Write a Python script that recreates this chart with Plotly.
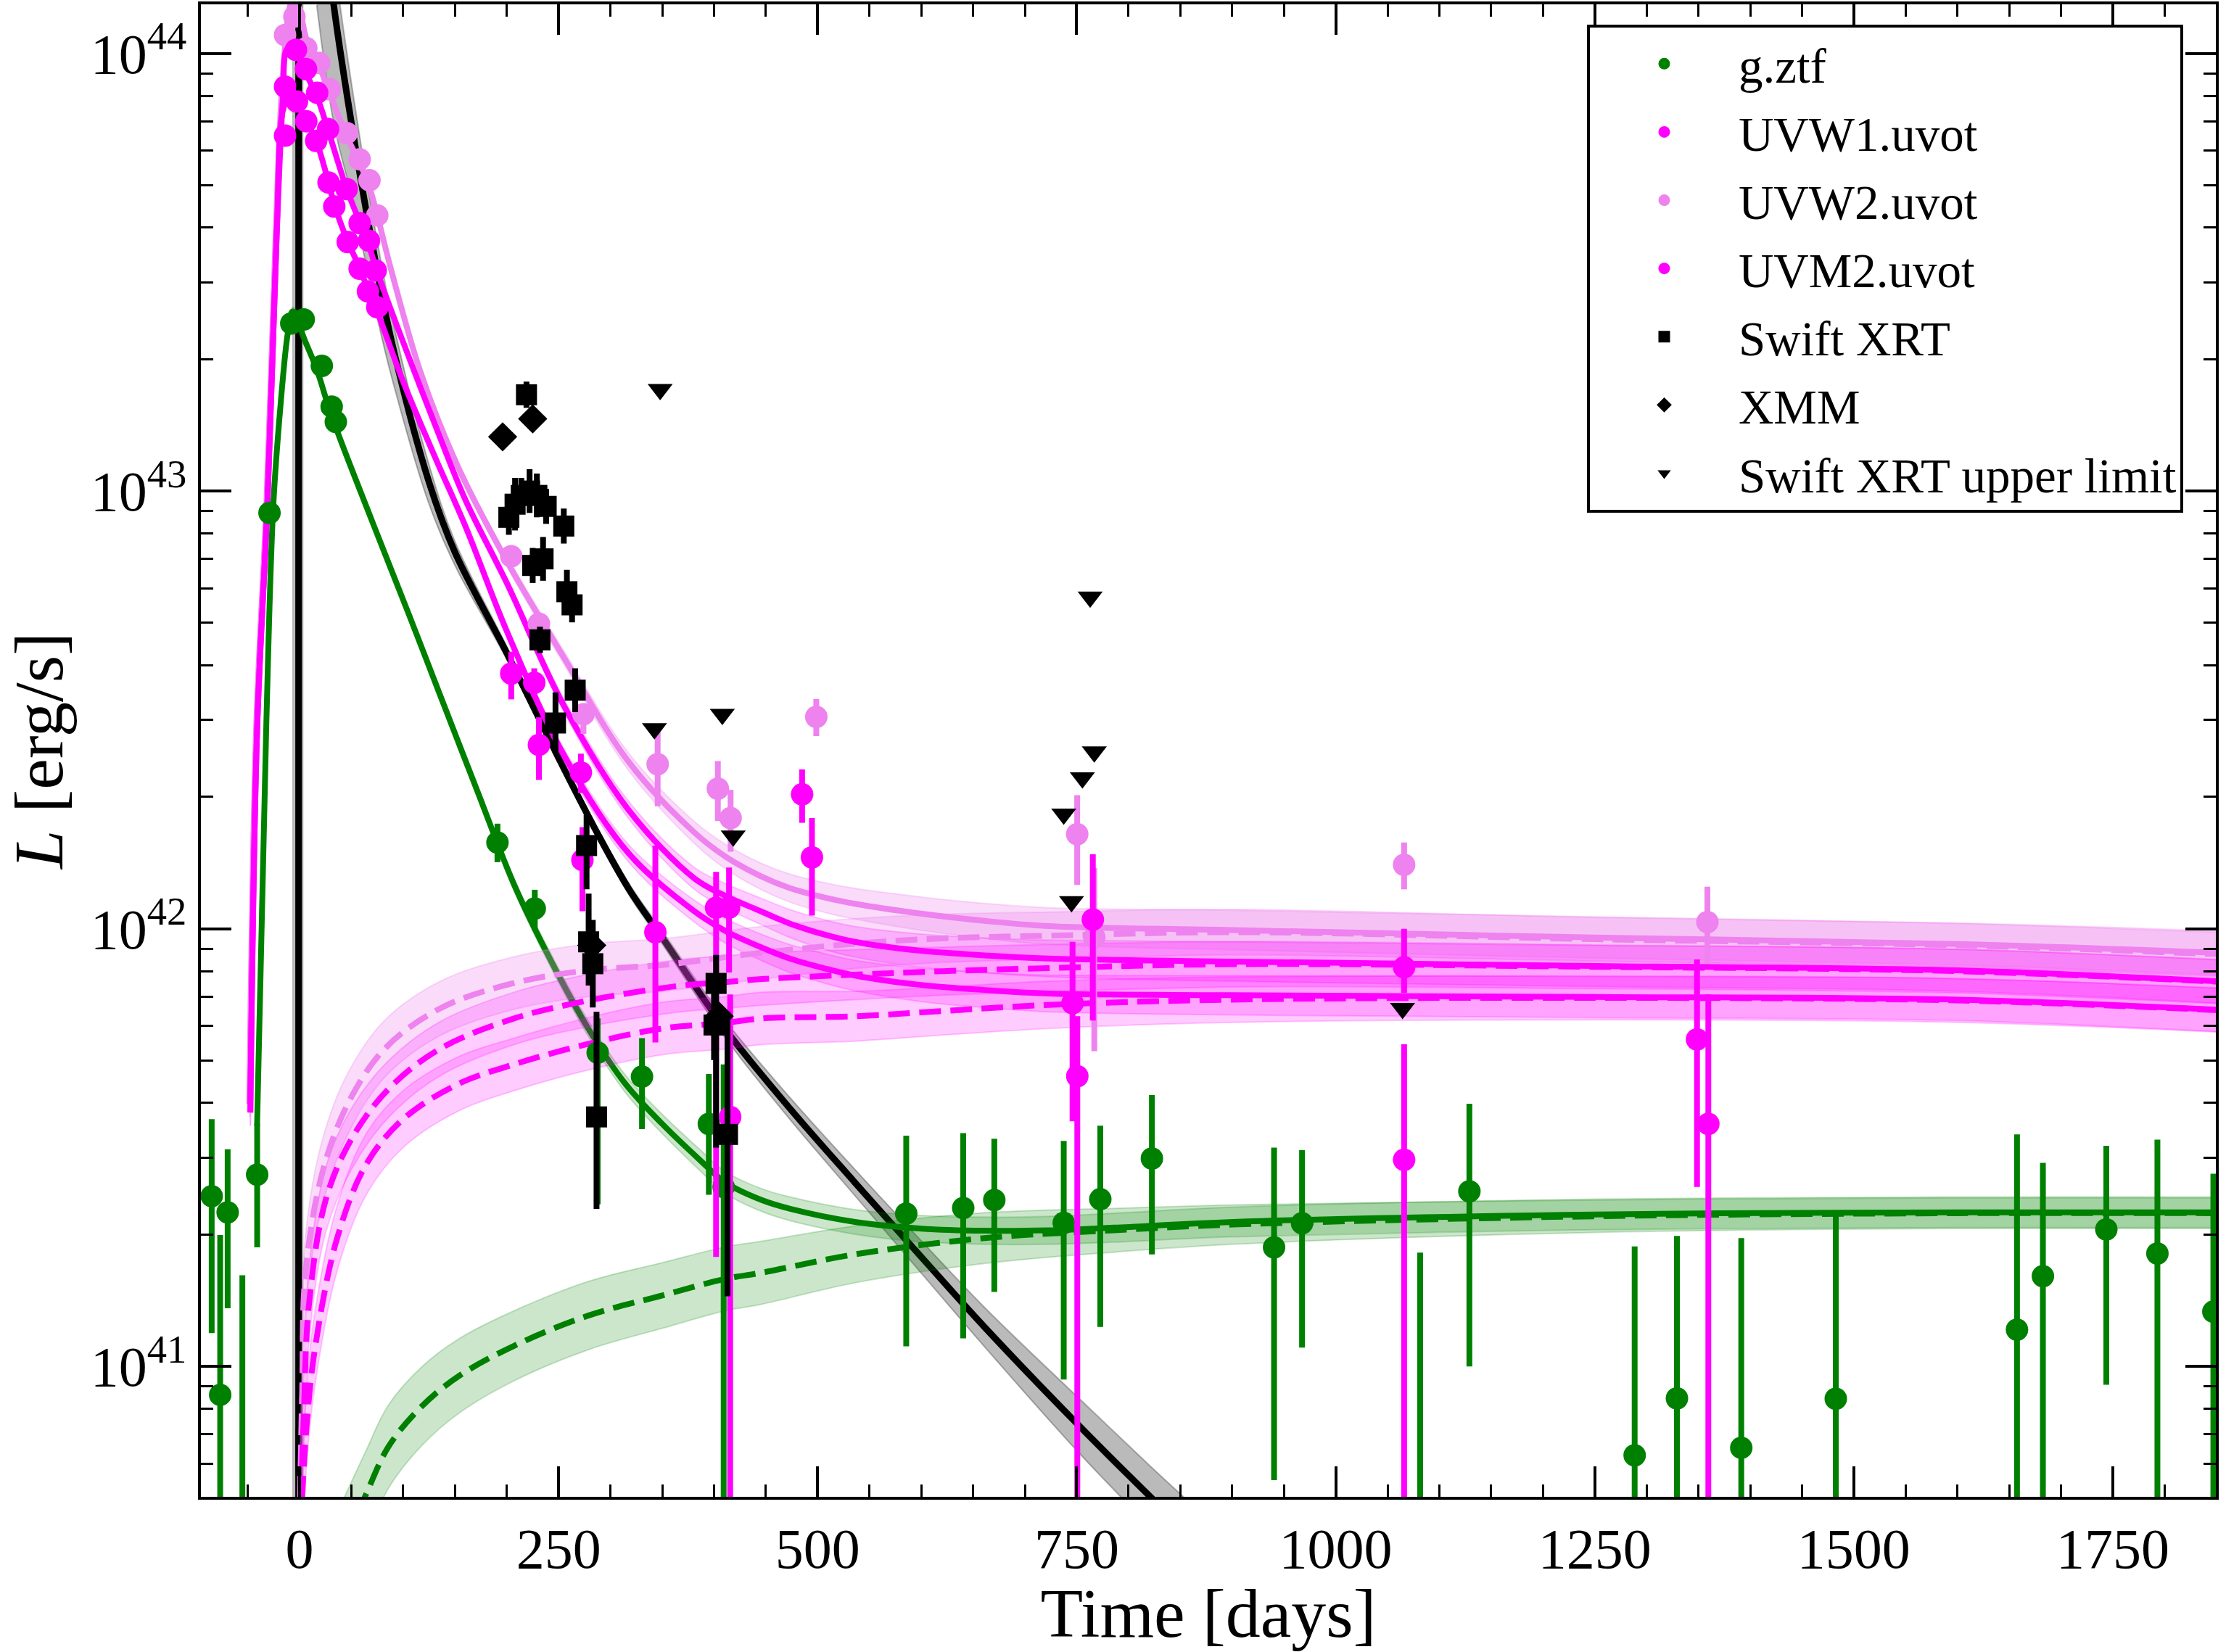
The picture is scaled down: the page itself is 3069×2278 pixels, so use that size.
import numpy as np
import plotly.graph_objects as go

FONT = "Liberation Serif, Times New Roman, serif"
GREEN = "#008000"
MAGENTA = "#FF00FF"
VIOLET = "#EE82EE"

# ---------------- observed photometry (time [days], log10 L [erg/s]) ----------------
# g.ztf
g_t = [-84.8, -76.6, -69.4, -55.2, -40.9, -29.0, -8.0, 4.0, 21.5, 31.0, 35.0, 191.0, 227.0, 287.7,
       330.5, 395.0, 409.3, 585.5, 640.5, 670.5, 737.5, 772.8, 822.6, 940.5, 967.5, 1081.5, 1129.0,
       1288.5, 1329.3, 1391.4, 1482.6, 1657.5, 1682.5, 1743.7, 1793.0, 1847.0]
g_L = [41.389, 40.935, 41.352, 40.50, 41.438, 42.950, 43.383, 43.392, 43.286, 43.193, 43.158, 42.197,
       42.046, 41.717, 41.662, 41.554, 41.410, 41.349, 41.362, 41.380, 41.328, 41.382, 41.475, 41.272,
       41.327, 40.550, 41.400, 40.797, 40.927, 40.814, 40.926, 41.084, 41.206, 41.313, 41.258, 41.125]
g_lo = [41.076, 40.0, 41.133, 40.0, 41.272, 42.935, 43.372, 43.381, 43.275, 43.182, 43.147, 42.152,
        41.996, 41.370, 41.542, 41.392, 40.0, 41.046, 41.064, 41.170, 40.970, 41.090, 41.256, 40.740,
        41.043, 40.0, 41.000, 40.0, 40.0, 40.0, 40.0, 40.0, 40.0, 40.958, 40.0, 40.0]
g_hi = [41.565, 41.300, 41.496, 41.208, 41.554, 42.965, 43.394, 43.403, 43.297, 43.204, 43.169, 42.240,
        42.089, 41.795, 41.750, 41.668, 41.690, 41.527, 41.533, 41.520, 41.515, 41.550, 41.620, 41.500,
        41.494, 41.260, 41.600, 41.274, 41.298, 41.293, 41.350, 41.530, 41.465, 41.504, 41.518, 41.440]

# UVW1.uvot
w1_t = [-14.0, -2.5, 6.5, 16.0, 28.0, 33.5, 46.5, 58.0, 66.0, 75.0, 204.3, 231.0, 273.0, 343.4,
        402.0, 415.6, 494.5, 746.0, 1066.0, 1359.6]
w1_L = [43.812, 43.890, 43.845, 43.800, 43.705, 43.650, 43.569, 43.508, 43.456, 43.420, 42.583, 42.420,
        42.157, 41.992, 42.048, 41.570, 42.163, 41.830, 41.472, 41.554]
w1_lo = [43.802, 43.880, 43.835, 43.790, 43.695, 43.640, 43.559, 43.498, 43.446, 43.410, 42.524, 42.340,
         42.040, 41.740, 41.250, 40.0, 42.030, 41.560, 40.0, 40.0]
w1_hi = [43.822, 43.900, 43.855, 43.810, 43.715, 43.660, 43.579, 43.518, 43.466, 43.430, 42.633, 42.483,
         42.232, 42.190, 42.130, 41.850, 42.253, 41.970, 41.736, 41.850]

# UVW2.uvot
w2_t = [-14.0, -5.0, 6.5, 19.0, 29.0, 45.5, 58.0, 67.5, 75.0, 204.3, 231.0, 274.0, 345.6, 403.7,
        416.0, 498.7, 750.5, 767.0, 1066.0, 1358.7]
w2_L = [44.042, 44.084, 44.012, 43.978, 43.918, 43.818, 43.758, 43.710, 43.630, 42.851, 42.697, 42.490,
        42.376, 42.320, 42.253, 42.484, 42.216, 41.980, 42.146, 42.015]
w2_lo = [44.032, 44.074, 44.002, 43.968, 43.908, 43.808, 43.748, 43.700, 43.620, 42.835, 42.680, 42.445,
         42.280, 42.246, 42.176, 42.440, 42.100, 41.720, 42.090, 41.920]
w2_hi = [44.052, 44.094, 44.022, 43.988, 43.928, 43.828, 43.768, 43.720, 43.640, 42.867, 42.712, 42.515,
         42.460, 42.383, 42.317, 42.525, 42.305, 42.139, 42.197, 42.096]

# UVM2.uvot
m2_t = [-14.0, -3.5, 6.2, 17.0, 27.5, 45.5, 58.0, 67.0, 73.5, 226.5, 271.5, 414.5, 485.0, 750.6,
        765.6, 1066.0, 1348.7]
m2_L = [43.924, 44.008, 43.964, 43.910, 43.827, 43.690, 43.612, 43.572, 43.504, 42.562, 42.357, 42.048,
        42.307, 41.663, 42.021, 41.912, 41.747]
m2_lo = [43.914, 43.998, 43.954, 43.900, 43.817, 43.680, 43.602, 43.562, 43.494, 42.529, 42.310, 41.900,
         42.242, 40.0, 41.790, 41.853, 41.410]
m2_hi = [43.934, 44.018, 43.974, 43.920, 43.837, 43.700, 43.622, 43.582, 43.514, 42.595, 42.400, 42.140,
         42.364, 41.800, 42.170, 42.000, 41.930]

# Swift XRT detections
x_t = [202, 208, 214, 219, 222, 229, 238, 255, 225, 235, 232, 258, 263, 266, 247, 277, 279, 283,
       286.6, 400, 402, 413]
x_L = [42.94, 42.97, 42.99, 43.22, 43.00, 42.99, 42.965, 42.92, 42.83, 42.845, 42.66, 42.77, 42.74,
       42.545, 42.47, 42.19, 41.97, 41.92, 41.57, 41.78, 41.875, 41.53]
x_lo = [42.90, 42.91, 42.95, 43.19, 42.95, 42.94, 42.925, 42.88, 42.79, 42.795, 42.63, 42.72, 42.70,
        42.495, 42.40, 42.09, 41.87, 41.82, 41.36, 41.70, 41.50, 41.16]
x_hi = [42.98, 43.03, 43.03, 43.25, 43.05, 43.04, 43.005, 42.96, 42.87, 42.895, 42.69, 42.82, 42.78,
        42.595, 42.54, 42.26, 42.08, 42.02, 41.81, 41.86, 41.94, 41.81]

# XMM
xmm_t = [196.0, 225.0, 282.0, 405.0]
xmm_L = [43.124, 43.165, 41.962, 41.800]
xmm_lo = [43.109, 43.150, 41.947, 41.785]
xmm_hi = [43.139, 43.180, 41.977, 41.815]

# Swift XRT upper limits
ul_t = [348.0, 342.5, 408.0, 418.5, 737.5, 745.0, 755.5, 767.0, 763.0, 1064.5]
ul_L = [43.232, 42.457, 42.490, 42.212, 42.262, 42.062, 42.345, 42.404, 42.758, 41.818]

# ---------------- model curves (time, log10 L) ----------------
# X-ray model: vertical rise then decay, with asymmetric uncertainty
bk_rise_t = [-1.0, -0.9]
bk_rise_L = [39.5, 45.5]
bk_rise_band_t = [-7.0, 3.0]
bkd_t = [16.6, 33, 51.5, 73.6, 90, 125, 150, 200, 250, 287, 318, 350, 411, 473, 536, 600, 661, 750, 822, 870]
bkd_L = [44.45, 44.11, 43.82, 43.52, 43.33, 43.02, 42.86, 42.63, 42.39, 42.22, 42.09, 41.98, 41.77,
         41.59, 41.42, 41.25, 41.09, 40.87, 40.70, 40.59]
bk_wu = [0.15, 0.11, 0.09, 0.07, 0.06, 0.04, 0.025, 0.015, 0.012, 0.012, 0.013, 0.015, 0.02, 0.025,
         0.03, 0.037, 0.045, 0.062, 0.07, 0.075]
bk_wl = [0.34, 0.27, 0.16, 0.11, 0.08, 0.05, 0.03, 0.015, 0.012, 0.012, 0.013, 0.015, 0.02, 0.025,
         0.03, 0.037, 0.045, 0.062, 0.07, 0.075]

# UV totals (UVW2, UVM2, UVW1)
w2m_t = [-48.5, -42, -32, -23, -17, -10, -6, 0, 7, 19, 29, 45.5, 58, 68, 75, 89, 117, 152, 200, 255,
         318, 381, 411, 445, 473, 509, 536, 598, 661, 723, 900, 1250, 1600, 1850]
w2m_L = [41.60, 42.45, 42.97, 43.59, 43.92, 44.10, 44.13, 44.10, 44.03, 43.97, 43.91, 43.81, 43.75,
         43.69, 43.63, 43.50, 43.27, 43.06, 42.84, 42.62, 42.38, 42.22, 42.165, 42.12, 42.093, 42.07,
         42.057, 42.035, 42.018, 42.006, 41.997, 41.980, 41.965, 41.945]
m2m_t = [-47.5, -41, -31, -22, -16, -12, -6, -1, 6, 17, 27.5, 45.5, 58, 67, 75, 100, 131, 160, 200, 255,
         318, 381, 411, 445, 473, 509, 536, 598, 661, 723, 900, 1250, 1600, 1850]
m2m_L = [41.58, 42.45, 42.97, 43.59, 43.90, 44.01, 44.01, 43.99, 43.955, 43.90, 43.825, 43.69, 43.615,
         43.56, 43.50, 43.34, 43.15, 42.98, 42.79, 42.51, 42.27, 42.115, 42.075, 42.04, 42.012, 41.985,
         41.97, 41.95, 41.939, 41.932, 41.925, 41.915, 41.905, 41.88]
w1m_t = [-47.5, -41, -31, -22, -16, -10, -3, 6.5, 16, 28, 33.5, 46.5, 58, 66, 75, 100, 131, 160, 200, 255,
         318, 381, 411, 445, 473, 509, 536, 598, 661, 723, 900, 1250, 1600, 1850]
w1m_L = [41.58, 42.45, 42.97, 43.59, 43.87, 43.90, 43.885, 43.845, 43.80, 43.705, 43.655, 43.57, 43.51,
         43.46, 43.41, 43.25, 43.076, 42.92, 42.68, 42.397, 42.171, 42.04, 41.995, 41.958, 41.932, 41.908,
         41.893, 41.872, 41.86, 41.852, 41.848, 41.844, 41.838, 41.815]
uv_tot_w = [0.03, 0.02, 0.015, 0.012, 0.012, 0.012, 0.012, 0.012, 0.012, 0.012, 0.012, 0.012, 0.012,
            0.012, 0.012, 0.012, 0.012, 0.012, 0.012, 0.015, 0.02, 0.025, 0.028, 0.03, 0.032, 0.034,
            0.035, 0.038, 0.04, 0.042, 0.045, 0.047, 0.048, 0.05]

# UV plateau (dashed) components
w2d_t = [0.5, 2.5, 5.6, 21.7, 46.6, 82.3, 135.8, 207.2, 278.6, 350, 411, 446, 536, 621, 723, 901, 1250, 1600, 1850]
w2d_L = [40.70, 40.94, 41.21, 41.44, 41.60, 41.726, 41.818, 41.876, 41.905, 41.917, 41.935, 41.945,
         41.966, 41.978, 41.984, 41.992, 41.976, 41.962, 41.942]
m2d_t = [1.5, 4.0, 9.0, 25.2, 50.2, 86, 135.8, 207, 278.6, 368, 411, 446, 536, 621, 723, 901, 1250, 1600, 1850]
m2d_L = [40.70, 40.88, 41.139, 41.38, 41.52, 41.634, 41.726, 41.795, 41.836, 41.87, 41.878, 41.885,
         41.895, 41.903, 41.91, 41.919, 41.913, 41.903, 41.879]
w1d_t = [2.5, 7.0, 14.5, 35.9, 64.4, 100, 153.8, 207, 278.6, 350, 411, 446, 536, 621, 723, 901, 1250, 1600, 1850]
w1d_L = [40.70, 40.87, 41.035, 41.29, 41.462, 41.565, 41.646, 41.69, 41.737, 41.772, 41.785, 41.795,
         41.80, 41.812, 41.826, 41.838, 41.842, 41.836, 41.814]
uv_pl_w = [0.10, 0.09, 0.085, 0.075, 0.07, 0.065, 0.062, 0.06, 0.06, 0.06, 0.06, 0.06, 0.057, 0.055,
           0.054, 0.052, 0.05, 0.05, 0.05]

# g-band total and plateau
gm_t = [-41, -32, -25.4, -18.4, -11.4, -6.8, -2, 2.6, 16.6, 30.6, 70.2, 105.2, 133, 171.5, 207.2, 243,
        278.6, 314.3, 350, 385.7, 411, 446, 473.5, 536, 598.5, 661, 723, 786, 901, 1250, 1600, 1850]
gm_L = [41.55, 42.475, 42.964, 43.195, 43.36, 43.41, 43.40, 43.36, 43.278, 43.174, 42.93, 42.72,
        42.55, 42.315, 42.10, 41.925, 41.772, 41.646, 41.554, 41.473, 41.42, 41.38, 41.36, 41.33,
        41.315, 41.31, 41.311, 41.317, 41.33, 41.347, 41.352, 41.352]
gm_w = [0.02, 0.012, 0.01, 0.01, 0.01, 0.01, 0.01, 0.01, 0.01, 0.01, 0.01, 0.01, 0.01, 0.012, 0.014,
        0.016, 0.018, 0.02, 0.022, 0.024, 0.025, 0.026, 0.027, 0.028, 0.03, 0.031, 0.032, 0.033, 0.034,
        0.035, 0.035, 0.035]
gd_t = [43, 62.7, 85.9, 118, 153.8, 207, 278.6, 350, 411, 446, 536, 661, 786, 901, 1250, 1600, 1850]
gd_L = [40.60, 40.70, 40.817, 40.909, 40.978, 41.047, 41.116, 41.162, 41.20, 41.214, 41.256, 41.293,
        41.311, 41.324, 41.343, 41.35, 41.35]
gd_w = [0.10, 0.10, 0.095, 0.09, 0.085, 0.08, 0.078, 0.075, 0.073, 0.072, 0.065, 0.058, 0.05, 0.045,
        0.037, 0.035, 0.035]

# axis ticks
x_major = [0, 250, 500, 750, 1000, 1250, 1500, 1750]
y_major_exp = [41, 42, 43, 44]


def P(a):
    return np.power(10.0, np.asarray(a, dtype=float))


fig = go.Figure()

SMOOTH = 1.0


def add_band(t, c, wu, wl, color):
    # lower edge first, then upper edge filled down to it
    t = list(np.asarray(t, float))
    c = np.asarray(c, float)
    hi = c + np.asarray(wu, float)
    lo = c - np.asarray(wl, float)
    fig.add_trace(go.Scatter(x=t, y=P(lo), mode='lines',
                             line=dict(color=color, width=2, shape='spline', smoothing=SMOOTH),
                             showlegend=False, hoverinfo='skip'))
    fig.add_trace(go.Scatter(x=t, y=P(hi), mode='lines', fill='tonexty', fillcolor=color,
                             line=dict(color=color, width=2, shape='spline', smoothing=SMOOTH),
                             showlegend=False, hoverinfo='skip'))


def add_line(t, c, color, dash='solid', width=8):
    fig.add_trace(go.Scatter(x=list(t), y=P(c), mode='lines',
                             line=dict(color=color, width=width, dash=dash, shape='spline',
                                       smoothing=SMOOTH),
                             showlegend=False, hoverinfo='skip'))


GRAY_F = 'rgba(0,0,0,0.27)'
GREEN_F = 'rgba(0,128,0,0.2)'
MAG_F = 'rgba(255,0,255,0.2)'
VIO_F = 'rgba(238,130,238,0.28)'
DASH = '30px,13px'

# X-ray model
fig.add_trace(go.Scatter(x=[bk_rise_band_t[0], bk_rise_band_t[1], bk_rise_band_t[1], bk_rise_band_t[0]],
                         y=P([bk_rise_L[0], bk_rise_L[0], bk_rise_L[1], bk_rise_L[1]]),
                         mode='lines', fill='toself', fillcolor=GRAY_F,
                         line=dict(color=GRAY_F, width=2), showlegend=False, hoverinfo='skip'))
add_band(bkd_t, bkd_L, bk_wu, bk_wl, GRAY_F)
fig.add_trace(go.Scatter(x=bk_rise_t, y=P(bk_rise_L), mode='lines',
                         line=dict(color='black', width=9), showlegend=False, hoverinfo='skip'))
add_line(bkd_t, bkd_L, 'black', width=9)

# g-band model
add_band(gd_t, gd_L, gd_w, gd_w, GREEN_F)
add_band(gm_t, gm_L, gm_w, gm_w, GREEN_F)
add_line(gd_t, gd_L, GREEN, dash=DASH)
add_line(gm_t, gm_L, GREEN)

# UV models
add_band(w2d_t, w2d_L, uv_pl_w, uv_pl_w, VIO_F)
add_band(m2d_t, m2d_L, uv_pl_w, uv_pl_w, MAG_F)
add_band(w1d_t, w1d_L, uv_pl_w, uv_pl_w, MAG_F)
add_band(w2m_t, w2m_L, uv_tot_w, uv_tot_w, VIO_F)
add_band(m2m_t, m2m_L, uv_tot_w, uv_tot_w, MAG_F)
add_band(w1m_t, w1m_L, uv_tot_w, uv_tot_w, MAG_F)
add_line(w2d_t, w2d_L, VIOLET, dash=DASH)
add_line(m2d_t, m2d_L, MAGENTA, dash=DASH)
add_line(w1d_t, w1d_L, MAGENTA, dash=DASH)
add_line(w2m_t, w2m_L, VIOLET)
add_line(m2m_t, m2m_L, MAGENTA)
add_line(w1m_t, w1m_L, MAGENTA)


def add_data(t, L, lo, hi, name, color, symbol, size):
    y = P(L)
    fig.add_trace(go.Scatter(
        x=t, y=y, mode='markers', name=name, legendgroup=name,
        marker=dict(color=color, symbol=symbol, size=size, line=dict(width=0)),
        error_y=dict(type='data', symmetric=False, array=P(hi) - y, arrayminus=y - P(lo),
                     color=color, thickness=8, width=0),
        hoverinfo='x+y'))


add_data(g_t, g_L, g_lo, g_hi, 'g.ztf', GREEN, 'circle', 31)
add_data(w1_t, w1_L, w1_lo, w1_hi, 'UVW1.uvot', MAGENTA, 'circle', 31)
add_data(w2_t, w2_L, w2_lo, w2_hi, 'UVW2.uvot', VIOLET, 'circle', 31)
add_data(m2_t, m2_L, m2_lo, m2_hi, 'UVM2.uvot', MAGENTA, 'circle', 31)
add_data(x_t, x_L, x_lo, x_hi, 'Swift XRT', 'black', 'square', 29)
add_data(xmm_t, xmm_L, xmm_lo, xmm_hi, 'XMM', 'black', 'diamond', 31)
fig.add_trace(go.Scatter(x=ul_t, y=P(ul_L), mode='markers', name='Swift XRT upper limit',
                         legendgroup='ul', marker=dict(color='black', symbol='triangle-down', size=30,
                                                       line=dict(width=0))))

minor_y = [m * 10.0 ** e for e in range(40, 45) for m in range(2, 10)]

axis_common = dict(showline=True, linecolor='black', linewidth=4, mirror='allticks',
                   ticks='inside', ticklen=42, tickwidth=4, tickcolor='black',
                   showgrid=False, zeroline=False,
                   tickfont=dict(family=FONT, size=78, color='black'))

fig.update_layout(
    width=3069, height=2278,
    margin=dict(l=277, r=14, t=2, b=198, pad=0),
    paper_bgcolor='white', plot_bgcolor='white',
    font=dict(family=FONT, size=78, color='black'),
    showlegend=True,
    legend=dict(x=0.6879, y=0.9865, xanchor='left', yanchor='top', bgcolor='white',
                bordercolor='black', borderwidth=4, font=dict(family=FONT, size=67, color='black'),
                itemwidth=195, tracegroupgap=4),
    xaxis=dict(range=[-95.2, 1849.4], tickmode='array', tickvals=x_major,
               ticktext=[str(v) for v in x_major],
               minor=dict(dtick=50, tick0=0, ticks='inside', ticklen=17, tickwidth=3,
                          tickcolor='black', showgrid=False),
               title=dict(text='Time [days]', font=dict(family=FONT, size=96), standoff=30),
               **axis_common),
    yaxis=dict(type='log', range=[40.702, 44.112], tickmode='array',
               tickvals=[10.0 ** e for e in y_major_exp],
               ticktext=['10<sup>%d</sup>' % e for e in y_major_exp],
               minor=dict(tickmode='array', tickvals=minor_y, ticks='inside', ticklen=17,
                          tickwidth=3, tickcolor='black', showgrid=False),
               title=dict(text='<i>L</i> [erg/s]', font=dict(family=FONT, size=96), standoff=47),
               **axis_common),
)

fig.write_html("out.html")
